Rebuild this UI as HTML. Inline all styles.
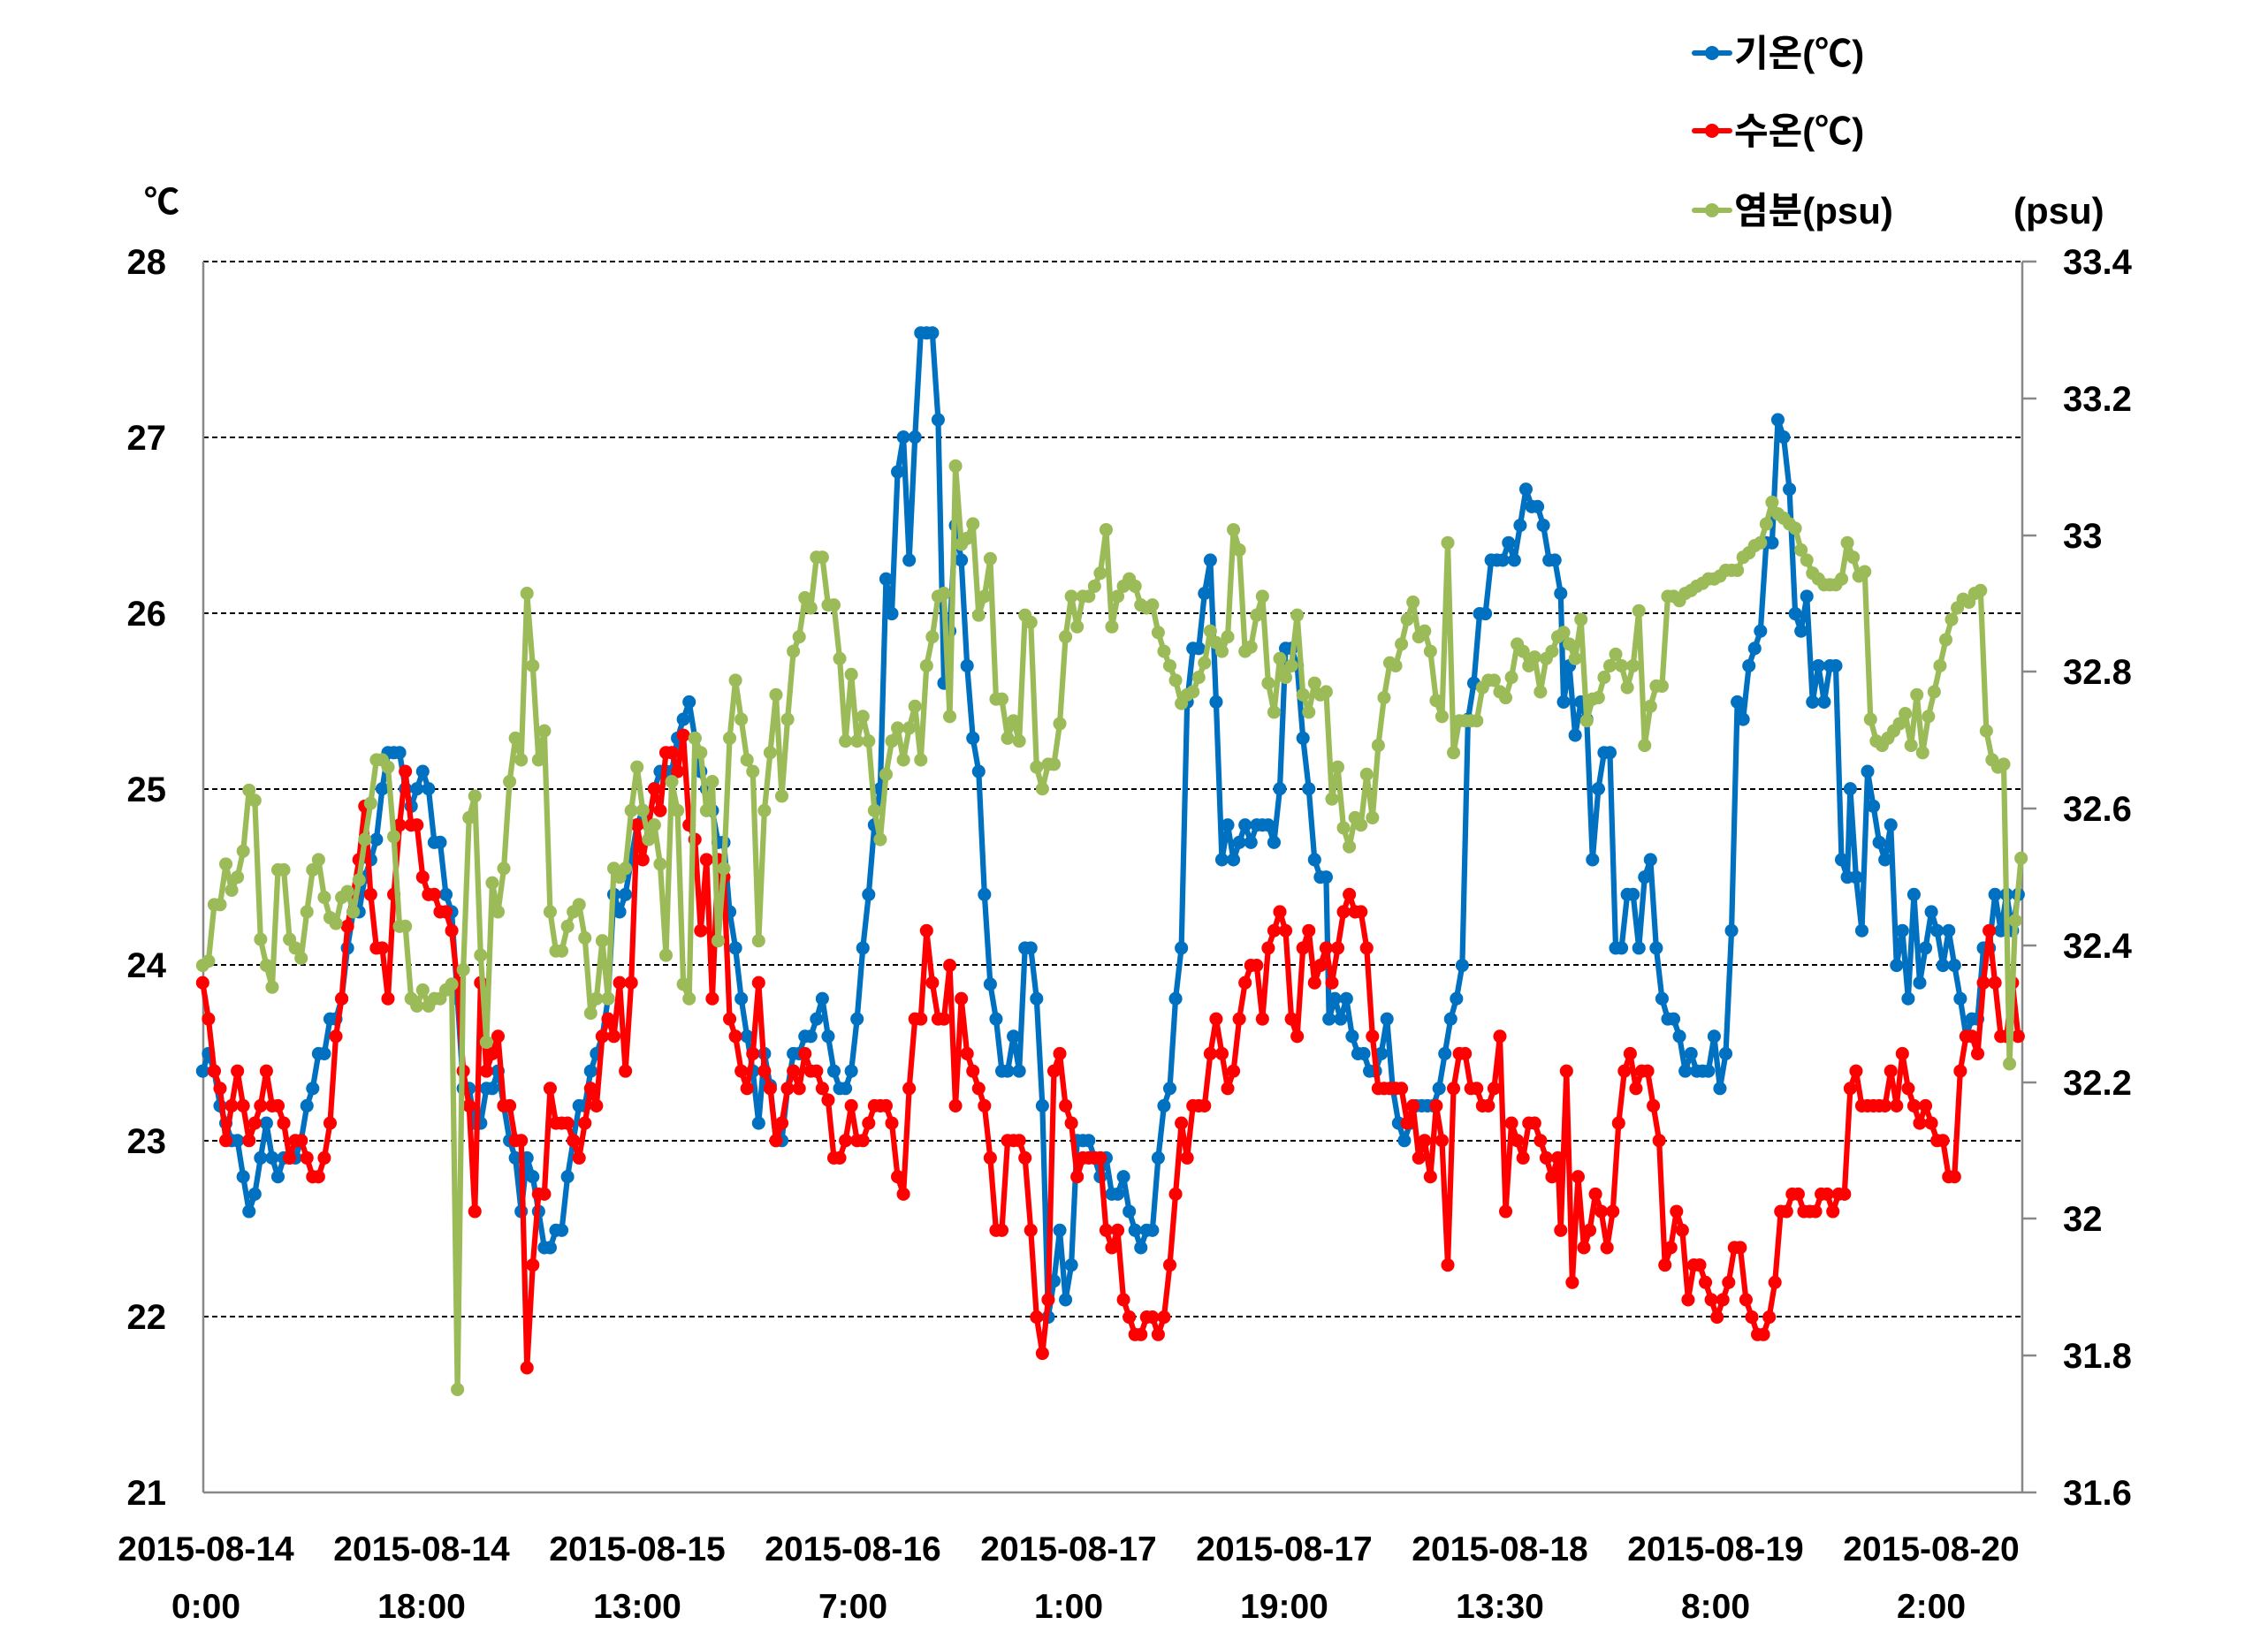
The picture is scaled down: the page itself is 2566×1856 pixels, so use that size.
<!DOCTYPE html>
<html><head><meta charset="utf-8"><style>
html,body{margin:0;padding:0;background:#fff;}
svg{display:block;}
text{font-family:"Liberation Sans","Noto Sans CJK KR",sans-serif;font-weight:bold;fill:#000;}
</style></head><body>
<svg width="2566" height="1856" viewBox="0 0 2566 1856" xmlns="http://www.w3.org/2000/svg">
<defs>
<marker id="mb" markerUnits="userSpaceOnUse" markerWidth="12" markerHeight="12" refX="6" refY="6" viewBox="0 0 12 12"><circle cx="6" cy="6" r="4.6" fill="#0070C0"/></marker>
<marker id="mr" markerUnits="userSpaceOnUse" markerWidth="12" markerHeight="12" refX="6" refY="6" viewBox="0 0 12 12"><circle cx="6" cy="6" r="4.6" fill="#FF0000"/></marker>
<marker id="mg" markerUnits="userSpaceOnUse" markerWidth="12" markerHeight="12" refX="6" refY="6" viewBox="0 0 12 12"><circle cx="6" cy="6" r="4.6" fill="#9BBB59"/></marker>
</defs>
<!-- grid -->
<g stroke="#000" stroke-width="2" stroke-dasharray="6,4">
<line x1="230" y1="296" x2="2288" y2="296"/>
<line x1="230" y1="495" x2="2288" y2="495"/>
<line x1="230" y1="694" x2="2288" y2="694"/>
<line x1="230" y1="893" x2="2288" y2="893"/>
<line x1="230" y1="1092" x2="2288" y2="1092"/>
<line x1="230" y1="1291" x2="2288" y2="1291"/>
<line x1="230" y1="1490" x2="2288" y2="1490"/>
</g>
<g stroke="#888" stroke-width="2.5">
<line x1="230" y1="296" x2="230" y2="1689"/>
<line x1="2288" y1="296" x2="2288" y2="1689"/>
<line x1="230" y1="1689" x2="2304" y2="1689"/>
<line x1="2288" y1="296" x2="2304" y2="296"/>
<line x1="2288" y1="451" x2="2304" y2="451"/>
<line x1="2288" y1="606" x2="2304" y2="606"/>
<line x1="2288" y1="760" x2="2304" y2="760"/>
<line x1="2288" y1="915" x2="2304" y2="915"/>
<line x1="2288" y1="1070" x2="2304" y2="1070"/>
<line x1="2288" y1="1225" x2="2304" y2="1225"/>
<line x1="2288" y1="1379" x2="2304" y2="1379"/>
<line x1="2288" y1="1534" x2="2304" y2="1534"/>
</g>
<!-- left ticks -->
<g font-size="40" text-anchor="end">
<text x="188" y="310">28</text><text x="188" y="509">27</text><text x="188" y="708">26</text>
<text x="188" y="907">25</text><text x="188" y="1106">24</text><text x="188" y="1305">23</text>
<text x="188" y="1504">22</text><text x="188" y="1703">21</text>
</g>
<g font-size="40" text-anchor="start">
<text x="2334" y="310">33.4</text><text x="2334" y="465">33.2</text><text x="2334" y="620">33</text>
<text x="2334" y="774">32.8</text><text x="2334" y="929">32.6</text><text x="2334" y="1084">32.4</text>
<text x="2334" y="1239">32.2</text><text x="2334" y="1393">32</text><text x="2334" y="1548">31.8</text>
<text x="2334" y="1703">31.6</text>
</g>
<text x="163" y="242" font-size="40" font-weight="normal">℃</text>
<g font-size="39" text-anchor="middle">
<text x="233" y="1766">2015-08-14</text><text x="477" y="1766">2015-08-14</text><text x="721" y="1766">2015-08-15</text>
<text x="965" y="1766">2015-08-16</text><text x="1209" y="1766">2015-08-17</text><text x="1453" y="1766">2015-08-17</text>
<text x="1697" y="1766">2015-08-18</text><text x="1941" y="1766">2015-08-19</text><text x="2185" y="1766">2015-08-20</text>
<text x="233" y="1831">0:00</text><text x="477" y="1831">18:00</text><text x="721" y="1831">13:00</text>
<text x="965" y="1831">7:00</text><text x="1209" y="1831">1:00</text><text x="1453" y="1831">19:00</text>
<text x="1697" y="1831">13:30</text><text x="1941" y="1831">8:00</text><text x="2185" y="1831">2:00</text>
</g>
<!-- legend -->
<g stroke-width="6" stroke-linecap="round">
<line x1="1917" y1="60" x2="1957" y2="60" stroke="#0070C0"/><circle cx="1937" cy="60" r="8" fill="#0070C0"/>
<line x1="1917" y1="148" x2="1957" y2="148" stroke="#FF0000"/><circle cx="1937" cy="148" r="8" fill="#FF0000"/>
<line x1="1917" y1="238" x2="1957" y2="238" stroke="#9BBB59"/><circle cx="1937" cy="238" r="8" fill="#9BBB59"/>
</g>
<g font-size="42">
<text x="1962" y="75">기온(℃)</text>
<text x="1962" y="163">수온(℃)</text>
<text x="1962" y="253">염분(psu)</text>
<text x="2278" y="253">(psu)</text>
</g>
<g transform="scale(1.638)" fill="none" stroke-width="3.8" stroke-linejoin="round">
<polyline stroke="#0070C0" marker-start="url(#mb)" marker-mid="url(#mb)" marker-end="url(#mb)" points="140,740 144,728 148,740 152,764 156,776 160,788 164,788 168,813 172,837 176,825 180,800 184,776 188,800 192,813 196,800 200,800 204,800 208,788 212,764 216,752 220,728 224,728 228,704 232,704 236,690 240,655 244,630 248,630 252,606 256,594 260,580 264,545 268,520 272,520 276,520 280,545 284,557 288,545 292,533 296,545 300,582 304,582 308,618 312,630 316,690 320,752 324,752 328,776 332,776 336,752 340,752 344,740 348,764 352,788 356,800 360,837 364,800 368,813 372,837 376,862 380,862 384,850 388,850 392,813 396,788 400,764 404,764 408,740 412,728 416,716 420,690 424,618 428,630 432,618 436,594 440,570 444,560 448,570 452,545 456,533 460,533 464,533 468,510 472,497 476,485 480,510 484,533 488,545 492,560 496,582 500,582 504,630 508,655 512,690 516,716 520,740 524,776 528,728 532,750 536,788 540,788 544,752 548,728 552,728 556,716 560,716 564,704 568,690 572,716 576,740 580,752 584,752 588,740 592,704 596,655 600,618 604,570 608,545 612,400 616,424 620,326 624,302 628,387 632,302 636,230 640,230 644,230 648,290 652,472 656,436 660,363 664,387 668,460 672,510 676,533 680,618 684,680 688,704 692,740 696,740 700,716 704,740 708,655 712,655 716,690 720,764 724,910 728,885 732,850 736,898 740,874 744,788 748,788 752,788 756,800 760,813 764,800 768,825 772,825 776,813 780,837 784,850 788,862 792,850 796,850 800,800 804,764 808,752 812,690 816,655 820,485 824,448 828,448 832,410 836,387 840,485 844,594 848,570 852,594 856,582 860,570 864,582 868,570 872,570 876,570 880,582 884,545 888,448 892,448 896,460 900,510 904,545 908,594 912,606 916,606 918,704 922,690 926,704 930,690 934,716 938,728 942,728 946,740 950,740 954,728 958,704 962,752 966,776 970,788 974,776 978,764 982,764 986,764 990,764 994,752 998,728 1002,704 1006,690 1010,667 1014,497 1018,472 1022,424 1026,424 1030,387 1034,387 1038,387 1042,375 1046,387 1050,363 1054,338 1058,350 1062,350 1066,363 1070,387 1074,387 1078,410 1080,485 1084,460 1088,508 1092,485 1096,497 1100,594 1104,545 1108,520 1112,520 1116,655 1120,655 1124,618 1128,618 1132,655 1136,606 1140,594 1144,655 1148,690 1152,704 1156,704 1160,716 1164,740 1168,728 1172,740 1176,740 1180,740 1184,716 1188,752 1192,728 1196,643 1200,485 1204,497 1208,460 1212,448 1216,436 1220,375 1224,375 1228,290 1232,302 1236,338 1240,424 1244,436 1248,412 1252,485 1256,460 1260,485 1264,460 1268,460 1272,594 1276,606 1278,545 1282,606 1286,643 1290,533 1294,557 1298,582 1302,594 1306,570 1310,667 1314,643 1318,690 1322,618 1326,679 1330,655 1334,630 1338,643 1342,667 1346,643 1350,667 1354,690 1358,716 1362,704 1366,704 1370,655 1374,655 1378,618 1382,643 1386,618 1390,643 1394,618"/>
<polyline stroke="#FF0000" marker-start="url(#mr)" marker-mid="url(#mr)" marker-end="url(#mr)" points="140,679 144,704 148,740 152,752 156,788 160,764 164,740 168,764 172,788 176,776 180,764 184,740 188,764 192,764 196,776 200,800 204,788 208,788 212,800 216,813 220,813 224,800 228,776 232,716 236,690 240,640 244,618 248,594 252,557 256,618 260,655 264,655 268,690 272,618 276,570 280,533 284,570 288,570 292,606 296,618 300,618 304,630 308,630 312,643 316,679 320,740 324,764 328,837 332,679 336,740 340,728 344,716 348,764 352,764 356,788 360,788 364,945 368,874 372,825 376,825 380,752 384,776 388,776 392,776 396,788 400,800 404,776 408,752 412,764 416,716 420,704 424,716 428,679 432,740 436,679 440,570 444,594 448,570 452,545 456,560 460,520 464,520 468,533 472,508 476,570 480,580 484,643 488,594 492,690 496,594 500,606 504,704 508,716 512,740 516,752 520,728 524,679 528,740 532,752 536,788 540,776 544,752 548,740 552,752 556,728 560,740 564,740 568,752 572,760 576,800 580,800 584,788 588,764 592,788 596,788 600,776 604,764 608,764 612,764 616,776 620,813 624,825 628,752 632,704 636,704 640,643 644,679 648,704 652,704 656,667 660,764 664,690 668,728 672,740 676,752 680,764 684,800 688,850 692,850 696,788 700,788 704,788 708,800 712,850 716,910 720,935 724,898 728,740 732,728 736,764 740,776 744,813 748,800 752,800 756,800 760,800 764,850 768,862 772,850 776,898 780,910 784,922 788,922 792,910 796,910 800,922 804,910 808,874 812,825 816,776 820,800 824,764 828,764 832,764 836,728 840,704 844,728 848,752 852,740 856,704 860,679 864,667 868,667 872,704 876,655 880,643 884,630 888,643 892,704 896,716 900,655 904,643 908,679 912,667 916,655 920,679 924,655 928,630 932,618 936,630 940,630 944,655 948,716 952,752 956,752 960,752 964,752 968,752 972,776 976,764 980,800 984,788 988,813 992,764 996,788 1000,874 1004,752 1008,728 1012,728 1016,752 1020,752 1024,764 1028,764 1032,752 1036,716 1040,837 1044,776 1048,788 1052,800 1056,776 1060,776 1064,788 1068,800 1072,813 1076,800 1078,850 1082,740 1086,886 1090,813 1094,862 1098,850 1102,825 1106,837 1110,862 1114,837 1118,776 1122,740 1126,728 1130,752 1134,740 1138,740 1142,764 1146,788 1150,874 1154,862 1158,837 1162,850 1166,898 1170,874 1174,874 1178,886 1182,898 1186,910 1190,898 1194,886 1198,862 1202,862 1206,898 1210,910 1214,922 1218,922 1222,910 1226,886 1230,837 1234,837 1238,825 1242,825 1246,837 1250,837 1254,837 1258,825 1262,825 1266,837 1270,825 1274,825 1278,752 1282,740 1286,764 1290,764 1294,764 1298,764 1302,764 1306,740 1310,764 1314,728 1318,752 1322,764 1326,776 1330,764 1334,776 1338,788 1342,788 1346,813 1350,813 1354,740 1358,716 1362,716 1366,728 1370,679 1374,643 1378,679 1382,716 1386,716 1390,679 1394,716"/>
<polyline stroke="#9BBB59" marker-start="url(#mg)" marker-mid="url(#mg)" marker-end="url(#mg)" points="140,667 144,664 148,625 152,625 156,597 160,615 164,606 168,588 172,546 176,553 180,649 184,667 188,682 192,601 196,601 200,649 204,655 208,662 212,630 216,601 220,594 224,620 228,634 232,638 236,620 240,616 244,630 248,608 252,580 256,555 260,525 264,525 268,530 272,578 276,640 280,640 284,690 288,695 292,684 296,695 300,690 304,690 308,684 312,680 316,960 320,670 324,565 328,550 332,660 336,720 340,610 344,630 348,600 352,540 356,510 360,525 364,410 368,460 372,525 376,505 380,630 384,657 388,657 392,640 396,630 400,625 404,648 408,700 412,690 416,650 420,690 424,600 428,606 432,600 436,560 440,530 444,560 448,580 452,570 456,597 460,660 464,540 468,560 472,680 476,690 480,510 484,520 488,560 492,540 496,650 500,600 504,510 508,470 512,497 516,525 520,533 524,650 528,560 532,520 536,480 540,550 544,497 548,450 552,440 556,413 560,420 564,385 568,385 572,418 576,418 580,455 584,512 588,466 592,512 596,495 600,512 604,560 608,580 612,535 616,512 620,503 624,525 628,503 632,488 636,525 640,460 644,440 648,412 652,410 656,495 660,322 664,376 668,372 672,362 676,425 680,412 684,386 688,483 692,483 696,510 700,498 704,512 708,425 712,430 716,530 720,545 724,528 728,528 732,500 736,440 740,412 744,433 748,412 752,412 756,405 760,396 764,366 768,433 772,412 776,405 780,400 784,405 788,418 792,420 796,418 800,437 804,450 808,460 812,470 816,486 820,480 824,478 828,468 832,458 836,436 840,444 844,450 848,440 852,366 856,380 860,450 864,447 868,425 872,412 876,472 880,492 884,455 888,468 892,460 896,425 900,480 904,492 908,472 912,480 916,478 920,552 924,530 928,572 932,585 936,565 940,570 944,535 948,565 952,515 956,482 960,458 964,460 968,445 972,428 976,416 980,440 984,436 988,450 992,484 996,495 1000,375 1004,520 1008,498 1012,498 1016,498 1020,498 1024,475 1028,470 1032,470 1036,478 1040,482 1044,468 1048,445 1052,450 1056,460 1060,454 1064,478 1068,455 1072,450 1076,440 1080,437 1084,445 1088,455 1092,428 1096,498 1100,483 1104,482 1108,468 1112,460 1116,452 1120,460 1124,475 1128,460 1132,422 1136,515 1140,488 1144,474 1148,474 1152,412 1156,412 1160,415 1164,410 1168,408 1172,405 1176,403 1180,400 1184,400 1188,398 1192,394 1196,394 1200,394 1204,385 1208,382 1212,377 1216,375 1220,362 1224,347 1228,355 1232,358 1236,362 1240,365 1244,380 1248,387 1252,396 1256,400 1260,404 1264,404 1268,404 1272,400 1276,375 1280,385 1284,398 1288,395 1292,497 1296,512 1300,515 1304,510 1308,505 1312,500 1316,493 1320,515 1324,480 1328,520 1332,495 1336,478 1340,460 1344,442 1348,428 1352,420 1356,414 1360,416 1364,410 1368,408 1372,505 1376,525 1380,530 1384,528 1388,735 1392,636 1396,593"/>
</g>
</svg>
</body></html>
